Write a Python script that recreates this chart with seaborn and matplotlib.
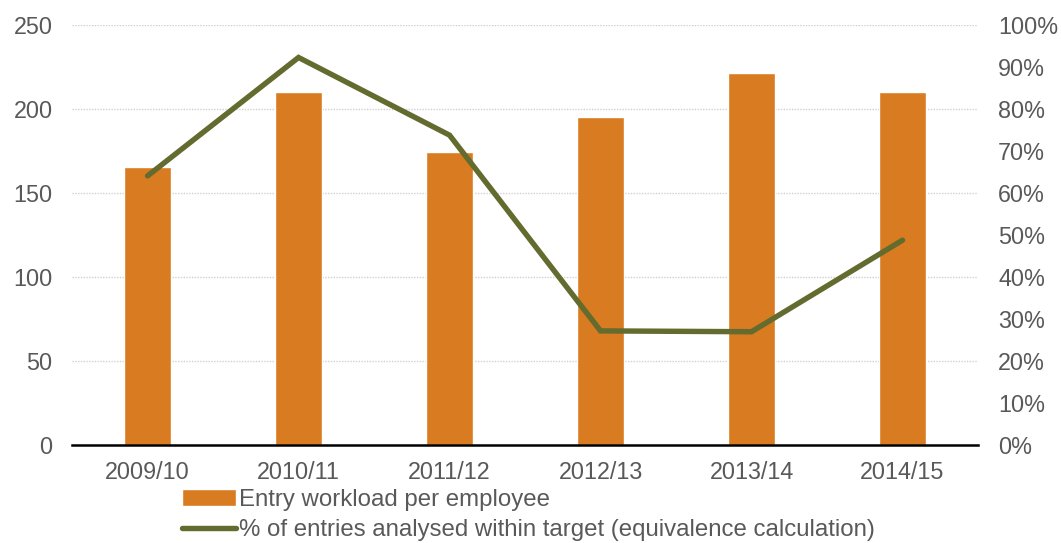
import matplotlib
matplotlib.use("Agg")
import matplotlib.pyplot as plt
import seaborn as sns
import pandas as pd
from matplotlib.ticker import FuncFormatter, MultipleLocator

# Data
years = ["2009/10", "2010/11", "2011/12", "2012/13", "2013/14", "2014/15"]
workload = [165.3, 210.1, 174.4, 194.9, 221.1, 209.8]
pct_within_target = [64.0, 92.2, 73.7, 27.1, 26.9, 48.7]

bar_label = "Entry workload per employee"
line_label = "% of entries analysed within target (equivalence calculation)"

sns.set_theme(style="white")
plt.rcParams["font.family"] = ["Liberation Sans", "DejaVu Sans"]

text_grey = "#595959"
bar_color = "#D97B21"
line_color = "#636B2F"
fs = 16.8

df = pd.DataFrame({"year": years, "workload": workload, "pct": pct_within_target})

fig = plt.figure(figsize=(10.61, 5.43), dpi=100)
ax = fig.add_axes([0.0679, 0.181, 0.8539, 0.7735])

sns.barplot(data=df, x="year", y="workload", color=bar_color, saturation=1,
            width=0.31, ax=ax, label=bar_label, zorder=2)
ax.set_xlim(-0.5, len(years) - 0.5)
ax.set_ylim(0, 250)
ax.yaxis.set_major_locator(MultipleLocator(50))
ax.grid(axis="y", color="#D0D0D0", linestyle=(0, (1, 1)), linewidth=1, zorder=0)
ax.set_axisbelow(True)
ax.set_xlabel("")
ax.set_ylabel("")

ax2 = ax.twinx()
sns.lineplot(x=list(range(len(years))), y=df["pct"], color=line_color,
             linewidth=3.9, ax=ax2, label=line_label, sort=False, legend=False)
ax2.lines[0].set_solid_capstyle("round")
ax2.lines[0].set_solid_joinstyle("miter")
ax2.set_ylim(0, 100)
ax2.yaxis.set_major_locator(MultipleLocator(10))
ax2.yaxis.set_major_formatter(FuncFormatter(lambda v, p: f"{int(round(v))}%"))
ax2.set_ylabel("")
ax2.grid(False)

for a in (ax, ax2):
    for s in ("top", "left", "right", "bottom"):
        a.spines[s].set_visible(False)
    a.tick_params(length=0, labelsize=fs, labelcolor=text_grey)

ax.spines["bottom"].set_visible(True)
ax.spines["bottom"].set_color("black")
ax.spines["bottom"].set_linewidth(1.8)
ax.tick_params(axis="x", pad=12)
ax.tick_params(axis="y", pad=14)
ax2.tick_params(axis="y", pad=14.5)

if ax.get_legend() is not None:
    ax.get_legend().remove()

handles = [ax.patches[0], ax2.lines[0]]
labels = [bar_label, line_label]
leg = fig.legend(handles, labels, loc="upper left", bbox_to_anchor=(0.1715, 0.099),
                 frameon=False, fontsize=17.3, handlelength=2.25, handletextpad=0.12,
                 labelspacing=0.33, borderpad=0, borderaxespad=0)
for t in leg.get_texts():
    t.set_color(text_grey)

fig.savefig("out.png", dpi=100)
